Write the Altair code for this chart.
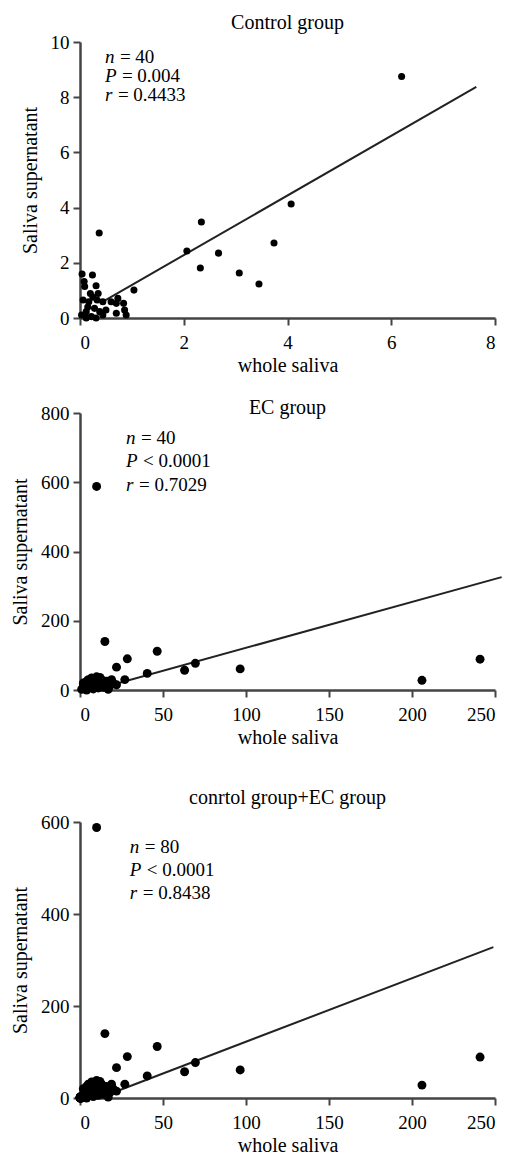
import altair as alt
import pandas as pd

FONT = "Liberation Serif, Times New Roman, serif"

# ---- Control group (whole saliva vs saliva supernatant) ----
ctrl_x = [6.2, 4.07, 3.74, 3.45, 3.07, 2.67, 2.34, 2.32, 2.06, 0.37, 1.04,
          0.04, 0.24, 0.08, 0.09, 0.31, 0.20, 0.35, 0.06, 0.17, 0.33,
          0.44, 0.28, 0.12, 0.38, 0.03, 0.22, 0.50, 0.60, 0.70, 0.73,
          0.84, 0.86, 0.70, 0.89, 0.44, 0.12, 0.31, 0.15, 0.25]
ctrl_y = [8.75, 4.13, 2.72, 1.23, 1.63, 2.35, 3.48, 1.81, 2.43, 3.08, 1.01,
          1.59, 1.56, 1.32, 1.14, 1.17, 0.89, 0.89, 0.65, 0.59, 0.65,
          0.59, 0.35, 0.23, 0.23, 0.11, 0.05, 0.29, 0.59, 0.53, 0.71,
          0.53, 0.29, 0.17, 0.11, 0.11, 0.00, 0.00, 0.40, 0.75]

# ---- EC group ----
ec_x = [10, 15, 46.5, 28.5, 22, 40.5, 27, 63, 69.5, 96.5, 206, 241,
        1, 2, 3, 4, 5, 5, 6, 7, 7, 8, 8, 9, 10, 10, 11, 12, 13, 14,
        15, 16, 17, 18, 19, 20, 2, 4, 12, 22]
ec_y = [588, 140, 112, 90, 66, 48, 30, 57, 77, 61, 28, 89,
        2, 8, 15, 25, 5, 30, 18, 10, 35, 3, 22, 28, 12, 38, 6, 20, 30, 8,
        15, 25, 2, 12, 30, 20, 20, 0, 36, 15]

# ---- fitted lines (end points) ----
ctrl_line_x = [0.4, 7.64]
ctrl_line_y = [0.55, 8.37]
ec_line_x = [12, 254]
ec_line_y = [5, 326]
all_line_x = [15, 249]
all_line_y = [5, 328]

# ---- statistics annotations ----
ctrl_stats = [("n", "= 40"), ("P", "= 0.004"), ("r", "= 0.4433")]
ec_stats = [("n", "= 40"), ("P", "< 0.0001"), ("r", "= 0.7029")]
all_stats = [("n", "= 80"), ("P", "< 0.0001"), ("r", "= 0.8438")]
ctrl_ann_x = 0.48
ctrl_ann_y = [9.46, 8.77, 8.08]
ec_ann_x = 27.7
ec_ann_y = [727, 660, 591]
all_ann_x = 30
all_ann_y = [545, 495, 445]

GAP_AFTER = {"n": 15, "P": 17, "r": 13}


def panel(px, py, lx, ly, xdom, xticks, ydom, yticks, title, toff,
          stats, ax, ay, w, h, size):
    pts = pd.DataFrame({"x": px, "y": py})
    ln = pd.DataFrame({"x": lx, "y": ly})
    xenc = alt.X("x:Q", scale=alt.Scale(domain=xdom, nice=False, zero=False),
                 axis=alt.Axis(values=xticks, title="whole saliva",
                               labelPadding=8, titlePadding=3))
    yenc = alt.Y("y:Q", scale=alt.Scale(domain=ydom, nice=False, zero=False),
                 axis=alt.Axis(values=yticks, title="Saliva supernatant",
                               labelPadding=4, titlePadding=10))
    layers = [
        alt.Chart(ln).mark_line(color="#222222", strokeWidth=2).encode(x=xenc, y=yenc),
        alt.Chart(pts).mark_circle(size=size, color="black", opacity=1).encode(x=xenc, y=yenc),
    ]
    for (it, rest), yy in zip(stats, ay):
        d = pd.DataFrame({"x": [ax], "y": [yy], "a": [it], "b": [rest]})
        layers.append(alt.Chart(d).mark_text(font=FONT, fontSize=19, fontStyle="italic",
                                             align="left", baseline="middle", color="black")
                      .encode(x="x:Q", y="y:Q", text="a:N"))
        layers.append(alt.Chart(d).mark_text(font=FONT, fontSize=19, align="left",
                                             baseline="middle", color="black",
                                             dx=GAP_AFTER[it])
                      .encode(x="x:Q", y="y:Q", text="b:N"))
    return alt.layer(*layers).properties(
        width=w, height=h,
        title=alt.TitleParams(title, font=FONT, fontSize=20, fontWeight="normal",
                              color="black", offset=toff, anchor="middle"))


top = panel(ctrl_x, ctrl_y, ctrl_line_x, ctrl_line_y, [0, 8], [0, 2, 4, 6, 8],
            [0, 10], [0, 2, 4, 6, 8, 10], "Control group", 0,
            ctrl_stats, ctrl_ann_x, ctrl_ann_y, 415, 276, 50)
mid = panel(ec_x, ec_y, ec_line_x, ec_line_y, [0, 250], [0, 50, 100, 150, 200, 250],
            [0, 800], [0, 200, 400, 600, 800], "EC group", -14,
            ec_stats, ec_ann_x, ec_ann_y, 415, 277, 80)
bot = panel(ctrl_x + ec_x, ctrl_y + ec_y, all_line_x, all_line_y, [0, 250],
            [0, 50, 100, 150, 200, 250], [0, 600], [0, 200, 400, 600],
            "conrtol group+EC group", 5,
            all_stats, all_ann_x, all_ann_y, 415, 276, 80)

chart = alt.vconcat(alt.vconcat(top, mid, spacing=23), bot, spacing=41).properties(
    padding={"left": 10, "top": 13, "right": 0, "bottom": 0},
    background="white",
).configure_view(stroke=None).configure_axis(
    grid=False, domainColor="#444444", domainWidth=2.5, tickColor="#444444",
    tickWidth=2, tickSize=7, labelFont=FONT, labelFontSize=19, labelColor="black",
    titleFont=FONT, titleFontSize=20, titleFontWeight="normal",
    titleColor="black",
)

chart.save("out.html", embed_options={"renderer": "svg", "actions": False})
